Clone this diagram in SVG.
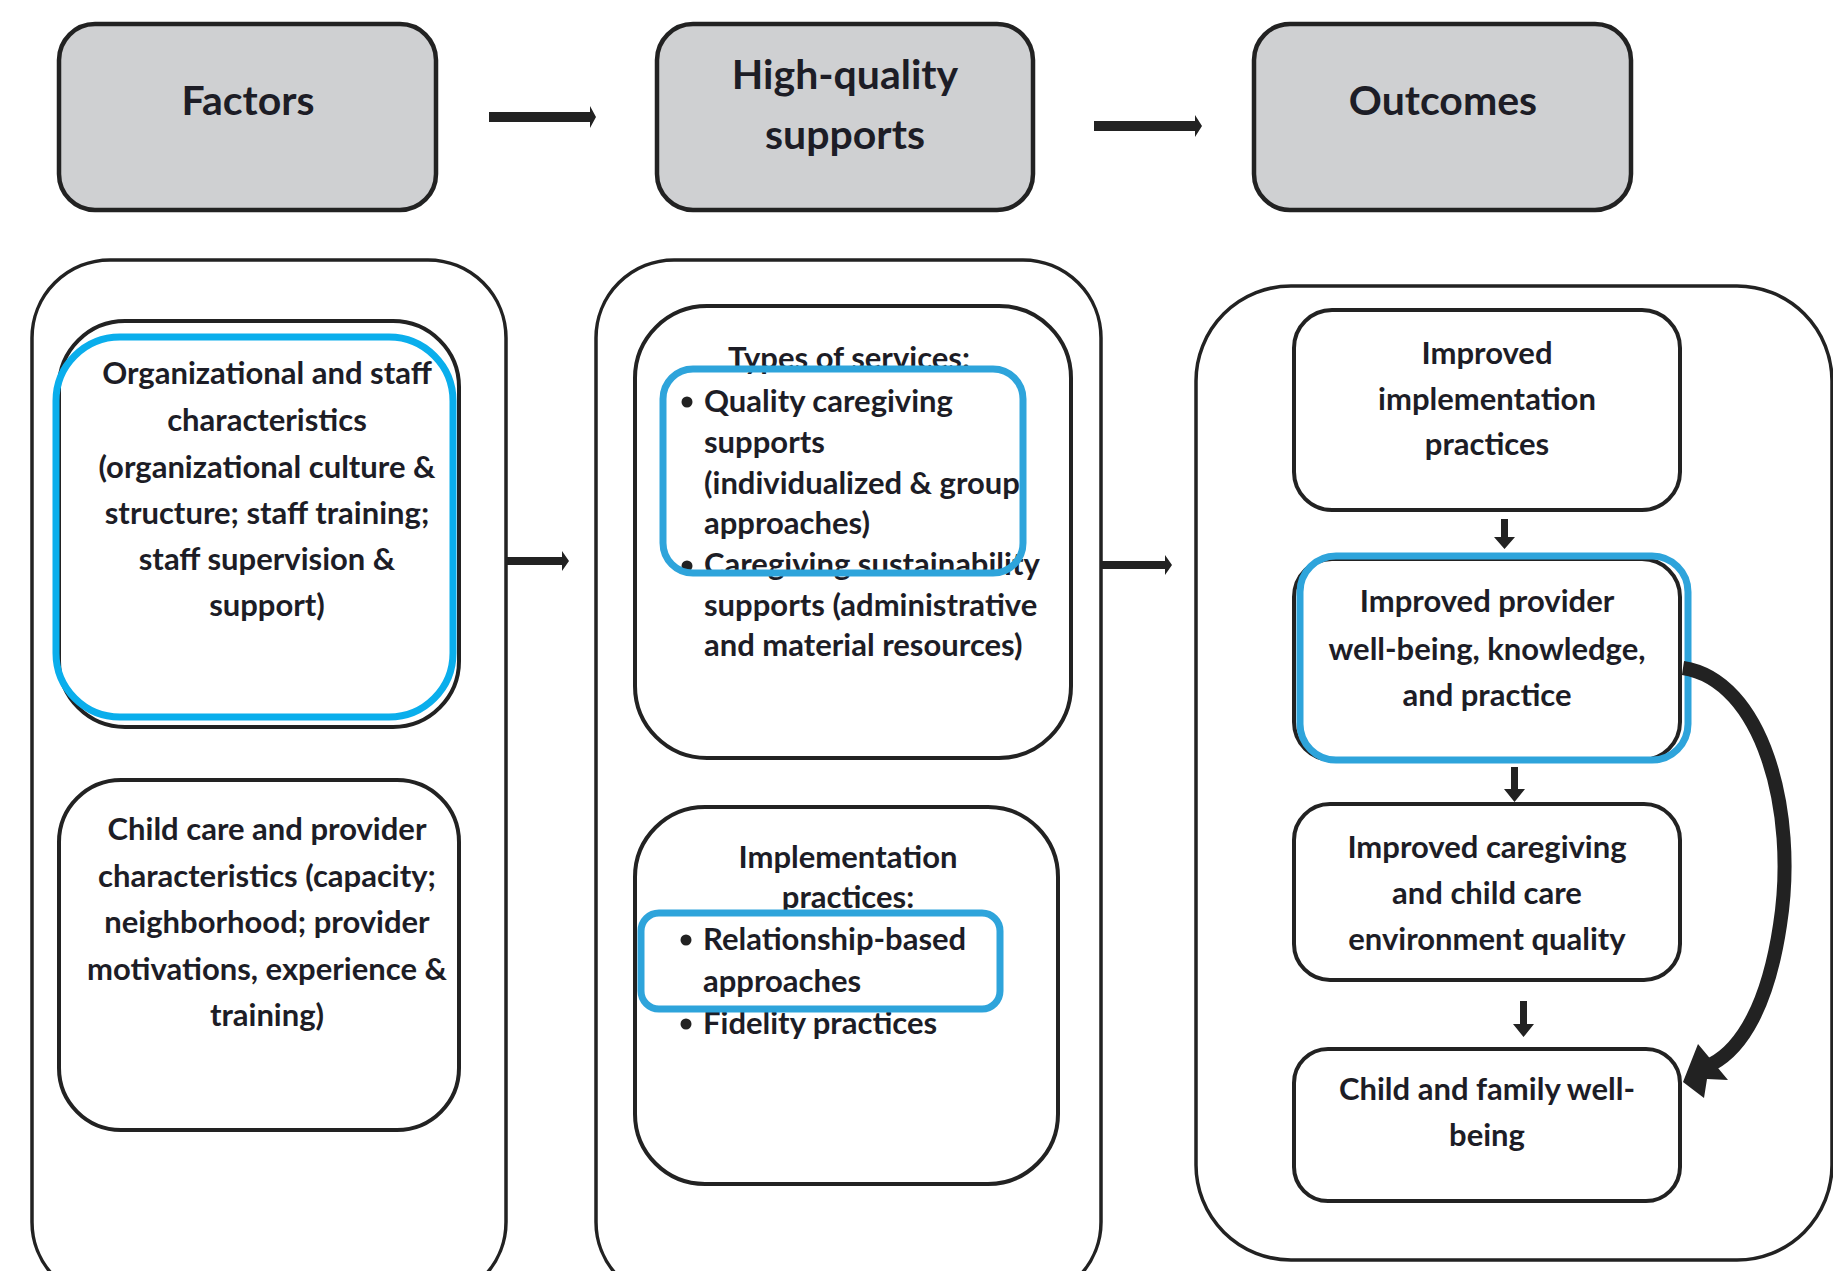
<svg xmlns="http://www.w3.org/2000/svg" width="1833" height="1271" viewBox="0 0 1833 1271">
  <style>
    .head { fill: #cfd0d2; stroke: #222; stroke-width: 4.5; }
    .frame { fill: none; stroke: #222; stroke-width: 3.5; }
    .box { fill: #fff; stroke: #222; stroke-width: 4; }
    .hl { fill: none; stroke: #2ea4db; stroke-width: 7; }
    .hl2 { fill: none; stroke: #0aaeec; stroke-width: 7; }
    .arrow { fill: #222; }
    text { font-family: Lato, "Open Sans", "Liberation Sans", sans-serif; font-weight: 700; fill: #1d1d26; }
    .t-head { font-size: 41px; text-anchor: middle; }
    .t-body { font-size: 31px; text-anchor: middle; }
    .t-list { font-size: 31px; }
  </style>
  <rect width="1833" height="1271" fill="#fff"/>

  <!-- column headers -->
  <g id="head-factors">
    <rect class="head" x="59" y="24" width="377" height="186" rx="36"/>
    <text class="t-head" x="248" y="115">Factors</text>
  </g>
  <g id="head-supports">
    <rect class="head" x="657" y="24" width="376" height="186" rx="36"/>
    <text class="t-head" x="845" y="89">High-quality</text>
    <text class="t-head" x="845" y="149">supports</text>
  </g>
  <g id="head-outcomes">
    <rect class="head" x="1254" y="24" width="377" height="186" rx="36"/>
    <text class="t-head" x="1443" y="115">Outcomes</text>
  </g>

  <!-- column frames (run off the bottom / right edge) -->
  <g id="frame-factors">
    <rect class="frame" x="32" y="260" width="474" height="1040" rx="78"/>
  </g>
  <g id="frame-supports">
    <rect class="frame" x="596" y="260" width="505" height="1040" rx="78"/>
  </g>
  <g id="frame-outcomes">
    <rect class="frame" x="1196" y="286" width="636" height="974" rx="95"/>
  </g>

  <!-- Factors column -->
  <g id="node-org">
    <rect class="box" x="59" y="321" width="400" height="406" rx="66"/>
    <text class="t-body" x="267" y="384">Organizational and staff</text>
    <text class="t-body" x="267" y="431">characteristics</text>
    <text class="t-body" x="267" y="478">(organizational culture &amp;</text>
    <text class="t-body" x="267" y="524">structure; staff training;</text>
    <text class="t-body" x="267" y="570">staff supervision &amp;</text>
    <text class="t-body" x="267" y="616">support)</text>
    <rect class="hl2" x="56" y="337" width="397" height="380" rx="64"/>
  </g>
  <g id="node-childcare">
    <rect class="box" x="59" y="780" width="400" height="350" rx="62"/>
    <text class="t-body" x="267" y="840">Child care and provider</text>
    <text class="t-body" x="267" y="887">characteristics (capacity;</text>
    <text class="t-body" x="267" y="933">neighborhood; provider</text>
    <text class="t-body" x="267" y="980">motivations, experience &amp;</text>
    <text class="t-body" x="267" y="1026">training)</text>
  </g>

  <!-- High-quality supports column -->
  <g id="node-services">
    <rect class="box" x="635" y="306" width="436" height="452" rx="72"/>
    <text class="t-body" x="849" y="369">Types of services:</text>
    <circle class="arrow" cx="687" cy="402" r="5.5"/>
    <text class="t-list" x="704" y="412">Quality caregiving</text>
    <text class="t-list" x="704" y="453">supports</text>
    <text class="t-list" x="704" y="494">(individualized &amp; group</text>
    <text class="t-list" x="704" y="534">approaches)</text>
    <circle class="arrow" cx="687" cy="566" r="5.5"/>
    <text class="t-list" x="704" y="575">Caregiving sustainability</text>
    <text class="t-list" x="704" y="616">supports (administrative</text>
    <text class="t-list" x="704" y="656">and material resources)</text>
    <rect class="hl" x="663" y="369" width="360" height="204" rx="30"/>
  </g>
  <g id="node-implementation">
    <rect class="box" x="635" y="807" width="423" height="377" rx="70"/>
    <text class="t-body" x="848" y="868">Implementation</text>
    <text class="t-body" x="848" y="908">practices:</text>
    <circle class="arrow" cx="686" cy="940" r="5.5"/>
    <text class="t-list" x="703" y="950">Relationship-based</text>
    <text class="t-list" x="703" y="992">approaches</text>
    <circle class="arrow" cx="686" cy="1024" r="5.5"/>
    <text class="t-list" x="703" y="1034">Fidelity practices</text>
    <rect class="hl" x="641" y="913" width="359" height="96" rx="18"/>
  </g>

  <!-- Outcomes column -->
  <g id="node-impl-practices">
    <rect class="box" x="1294" y="310" width="386" height="200" rx="38"/>
    <text class="t-body" x="1487" y="364">Improved</text>
    <text class="t-body" x="1487" y="410">implementation</text>
    <text class="t-body" x="1487" y="455">practices</text>
  </g>
  <g id="node-provider">
    <rect class="box" x="1294" y="559" width="386" height="201" rx="38"/>
    <text class="t-body" x="1487" y="612">Improved provider</text>
    <text class="t-body" x="1487" y="660">well-being, knowledge,</text>
    <text class="t-body" x="1487" y="706">and practice</text>
    <rect class="hl" x="1300" y="556" width="388" height="204" rx="36"/>
  </g>
  <g id="node-caregiving">
    <rect class="box" x="1294" y="804" width="386" height="176" rx="36"/>
    <text class="t-body" x="1487" y="858">Improved caregiving</text>
    <text class="t-body" x="1487" y="904">and child care</text>
    <text class="t-body" x="1487" y="950">environment quality</text>
  </g>
  <g id="node-family">
    <rect class="box" x="1294" y="1049" width="386" height="152" rx="34"/>
    <text class="t-body" x="1487" y="1100">Child and family well-</text>
    <text class="t-body" x="1487" y="1146">being</text>
  </g>

  <!-- connectors -->
  <g id="connectors">
    <!-- header row -->
    <polygon class="arrow" points="489,112 590,112 590,106 596,117 590,128 590,122 489,122"/>
    <polygon class="arrow" points="1094,121 1195,121 1195,115 1202,126 1195,137 1195,131 1094,131"/>
    <!-- between columns -->
    <polygon class="arrow" points="506,557 562,557 562,551 569,561 562,571 562,565 506,565"/>
    <polygon class="arrow" points="1101,561 1165,561 1165,555 1172,565 1165,575 1165,569 1101,569"/>
    <!-- outcome chain -->
    <polygon class="arrow" points="1501,519 1508,519 1508,537 1515,537 1504.5,549 1494,537 1501,537"/>
    <polygon class="arrow" points="1511,767 1518,767 1518,789 1525,789 1514.5,802 1504,789 1511,789"/>
    <polygon class="arrow" points="1520,1001 1527,1001 1527,1024 1534,1024 1523.5,1037 1513,1024 1520,1024"/>
    <!-- feedback arc from provider outcomes to child and family well-being -->
    <path d="M1683,668 C1762,680 1798,810 1780,925 C1768,1005 1742,1048 1712,1064" fill="none" stroke="#222" stroke-width="14"/>
    <polygon class="arrow" points="1698,1044 1728,1080 1707,1079 1704,1098 1683,1082"/>
  </g>
</svg>
